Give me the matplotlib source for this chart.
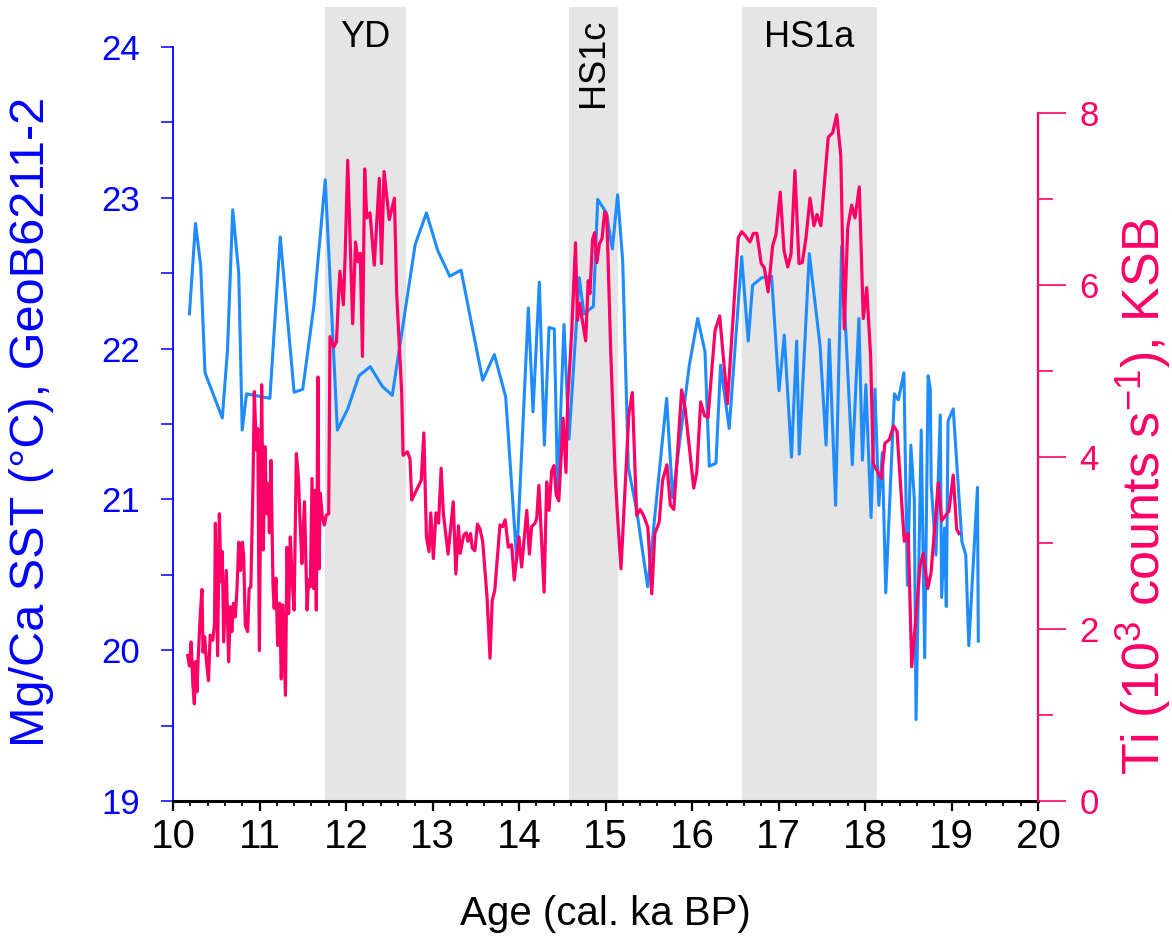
import matplotlib
matplotlib.use("Agg")
import matplotlib.pyplot as plt
from matplotlib.ticker import MultipleLocator, FixedLocator

plt.rcParams['font.family'] = ['Liberation Sans', 'DejaVu Sans']
plt.rcParams['mathtext.fontset'] = 'custom'
plt.rcParams['mathtext.rm'] = 'Liberation Sans'
plt.rcParams['mathtext.it'] = 'Liberation Sans'

# Mg/Ca SST, GeoB6211-2
sst_age = [10.19, 10.26, 10.32, 10.37, 10.57, 10.63, 10.69, 10.76, 10.80, 10.85,
           11.12, 11.24, 11.40, 11.50, 11.63, 11.76, 11.90, 12.02, 12.15, 12.28,
           12.42, 12.535, 12.80, 12.93, 13.06, 13.20, 13.33, 13.58, 13.715, 13.846,
           13.973, 14.108, 14.162, 14.235, 14.293, 14.347, 14.408, 14.447, 14.52, 14.578,
           14.697, 14.75, 14.86, 14.91, 15.01, 15.079, 15.14, 15.199, 15.264, 15.36,
           15.488, 15.707, 15.776, 15.969, 16.066, 16.15, 16.20, 16.277, 16.33, 16.43,
           16.574, 16.65, 16.70, 16.806, 16.92, 17.006, 17.067, 17.15, 17.21, 17.24,
           17.356, 17.48, 17.55, 17.587, 17.66, 17.73, 17.853, 17.93, 17.97, 18.01,
           18.07, 18.115, 18.16, 18.20, 18.24, 18.34, 18.385, 18.45, 18.49, 18.53,
           18.57, 18.59, 18.65, 18.69, 18.73, 18.755, 18.765, 18.82, 18.87, 18.886,
           18.92, 18.94, 18.96, 19.02, 19.12, 19.165, 19.20, 19.30, 19.31]
sst_val = [22.23, 22.83, 22.55, 21.84, 21.54, 21.99, 22.92, 22.50, 21.46, 21.70,
           21.67, 22.74, 21.71, 21.73, 22.29, 23.12, 21.46, 21.60, 21.82, 21.88,
           21.75, 21.69, 22.69, 22.90, 22.65, 22.48, 22.52, 21.79, 21.96, 21.68,
           20.60, 22.27, 21.58, 22.44, 21.36, 22.14, 22.13, 21.04, 22.16, 21.40,
           22.47, 22.23, 22.28, 22.99, 22.90, 22.66, 23.02, 22.58, 21.21, 20.93,
           20.42, 21.67, 21.01, 21.89, 22.20, 21.98, 21.22, 21.24, 21.89, 21.47,
           22.61, 22.05, 22.42, 22.47, 22.48, 21.72, 22.09, 21.28, 22.05, 21.30,
           22.63, 22.02, 21.36, 22.06, 20.96, 22.68, 21.23, 22.20, 21.26, 21.76,
           20.88, 21.73, 20.96, 21.31, 20.38, 21.70, 21.66, 21.84, 20.43, 21.36,
           21.00, 19.54, 21.46, 19.95, 21.82, 21.73, 21.10, 20.63, 21.56, 20.35,
           20.81, 20.29, 21.52, 21.60, 20.72, 20.63, 20.03, 21.08, 20.06]

# Ti counts, KSB (10^3 counts/s)
ti_age = [10.17, 10.19, 10.21, 10.23, 10.247, 10.258, 10.277, 10.289, 10.316, 10.335,
          10.347, 10.366, 10.385, 10.41, 10.43, 10.46, 10.48, 10.49, 10.516, 10.536,
          10.555, 10.57, 10.586, 10.617, 10.643, 10.663, 10.68, 10.70, 10.72, 10.74,
          10.76, 10.78, 10.80, 10.817, 10.836, 10.863, 10.88, 10.90, 10.925, 10.94,
          10.963, 10.98, 10.998, 11.025, 11.044, 11.063, 11.083, 11.10, 11.114, 11.133,
          11.156, 11.17, 11.19, 11.21, 11.233, 11.252, 11.27, 11.30, 11.318, 11.337,
          11.356, 11.38, 11.40, 11.426, 11.449, 11.472, 11.49, 11.52, 11.55, 11.568,
          11.588, 11.607, 11.626, 11.638, 11.657, 11.676, 11.688, 11.703, 11.726, 11.75,
          11.77, 11.80, 11.815, 11.86, 11.89, 11.915, 11.93, 11.97, 11.99, 12.02,
          12.077, 12.11, 12.14, 12.165, 12.19, 12.216, 12.24, 12.277, 12.327, 12.385,
          12.41, 12.44, 12.50, 12.56, 12.586, 12.644, 12.66, 12.71, 12.74, 12.76,
          12.87, 12.90, 12.93, 12.96, 12.98, 13.01, 13.04, 13.07, 13.10, 13.125,
          13.18, 13.24, 13.27, 13.30, 13.32, 13.36, 13.39, 13.41, 13.44, 13.46,
          13.49, 13.52, 13.55, 13.58, 13.63, 13.665, 13.69, 13.72, 13.78, 13.81,
          13.84, 13.877, 13.915, 13.945, 14.00, 14.03, 14.09, 14.12, 14.146, 14.185,
          14.205, 14.23, 14.29, 14.32, 14.347, 14.378, 14.405, 14.43, 14.46, 14.51,
          14.543, 14.563, 14.609, 14.653, 14.676, 14.70, 14.771, 14.80, 14.82, 14.85,
          14.876, 14.90, 14.93, 14.96, 14.99, 15.015, 15.06, 15.11, 15.135, 15.179,
          15.245, 15.27, 15.31, 15.36, 15.40, 15.44, 15.49, 15.535, 15.57, 15.62,
          15.66, 15.71, 15.75, 15.79, 15.88, 15.92, 16.02, 16.055, 16.10, 16.145,
          16.185, 16.266, 16.32, 16.41, 16.535, 16.575, 16.62, 16.67, 16.71, 16.75,
          16.80, 16.836, 16.88, 16.933, 16.97, 17.02, 17.064, 17.107, 17.145, 17.19,
          17.237, 17.275, 17.318, 17.364, 17.41, 17.445, 17.49, 17.575, 17.626, 17.673,
          17.72, 17.76, 17.80, 17.846, 17.884, 17.934, 17.98, 18.02, 18.065, 18.095,
          18.19, 18.23, 18.28, 18.33, 18.37, 18.454, 18.50, 18.54, 18.59, 18.636,
          18.674, 18.725, 18.763, 18.847, 18.887, 18.97, 19.02, 19.06, 19.087]
ti_val = [1.69, 1.57, 1.85, 1.35, 1.13, 1.62, 1.27, 1.61, 2.18, 2.46,
          1.73, 1.91, 1.64, 1.40, 1.93, 1.87, 2.06, 3.23, 1.69, 3.34,
          2.55, 2.90, 1.85, 2.68, 1.62, 2.26, 1.97, 2.30, 2.14, 2.47,
          3.01, 2.68, 3.01, 2.86, 2.04, 1.97, 2.47, 2.49, 3.69, 4.76,
          4.08, 4.33, 1.75, 4.84, 2.92, 4.12, 3.34, 3.69, 3.12, 3.96,
          2.51, 2.24, 2.59, 1.81, 2.30, 1.42, 2.28, 1.23, 2.95, 2.18,
          3.07, 2.53, 2.22, 4.04, 3.77, 3.17, 2.76, 3.48, 2.22, 2.57,
          2.49, 3.75, 2.47, 3.61, 2.22, 4.93, 2.70, 3.58, 3.30, 3.21,
          3.32, 3.34, 5.40, 5.28, 5.34, 5.90, 6.16, 5.77, 6.33, 7.45,
          5.55, 6.50, 6.27, 6.37, 5.17, 7.35, 6.78, 6.84, 6.23, 7.24,
          6.25, 7.32, 6.76, 7.01, 5.90, 4.74, 4.02, 4.06, 3.98, 3.50,
          3.73, 4.28, 3.07, 2.90, 3.35, 2.82, 3.35, 3.23, 3.87, 3.35,
          2.87, 3.48, 2.64, 3.20, 2.88, 3.09, 3.12, 3.02, 3.11, 2.94,
          2.91, 3.22, 3.16, 3.02, 2.38, 1.66, 2.33, 2.45, 3.21, 3.19,
          3.27, 2.95, 2.98, 2.57, 3.07, 2.72, 3.38, 2.87, 3.19, 3.23,
          3.29, 3.67, 2.43, 3.71, 3.38, 3.84, 3.90, 3.56, 3.49, 4.45,
          3.82, 4.66, 5.44, 6.49, 5.59, 5.79, 5.35, 6.05, 5.90, 6.53,
          6.61, 6.26, 6.48, 6.54, 6.85, 6.81, 5.24, 3.84, 3.38, 2.70,
          4.00, 4.50, 4.75, 3.32, 3.39, 3.32, 3.18, 2.41, 3.11, 3.24,
          3.73, 3.91, 3.44, 3.39, 4.78, 4.57, 3.64, 3.82, 4.64, 4.48,
          4.46, 5.47, 5.64, 4.62, 6.55, 6.62, 6.57, 6.50, 6.60, 6.60,
          6.25, 6.20, 5.92, 6.46, 6.58, 7.08, 6.40, 6.21, 6.36, 7.33,
          6.25, 6.26, 6.55, 7.01, 6.69, 6.82, 6.69, 7.72, 7.77, 7.98,
          7.51, 5.49, 6.67, 6.93, 6.78, 7.14, 5.61, 5.97, 5.17, 3.92,
          3.75, 4.16, 4.20, 4.36, 4.30, 3.02, 3.11, 1.56, 2.15, 2.73,
          2.88, 2.47, 2.65, 3.70, 3.26, 3.37, 3.79, 3.16, 3.11]

# stadial intervals
events = ["YD", "HS1c", "HS1a"]
event_start = [11.76, 14.58, 16.58]
event_end = [12.69, 15.15, 18.14]

sst_color = "#1E8CFF"
ti_color = "#FF0066"
axis_blue = "#0000FF"

fig = plt.figure(figsize=(11.72, 9.41), dpi=100)
ax = fig.add_axes([173 / 1172, 140 / 941, 865 / 1172, 794 / 941])
ax2 = ax.twinx()

for name, x0, x1 in zip(events, event_start, event_end):
    ax.axvspan(x0, x1, color="#E5E5E5", lw=0, zorder=0)
    xm = (x0 + x1) / 2
    if name == "HS1c":
        ax.text(xm, 24.19, name, rotation=90, ha="center", va="top", fontsize=26)
    else:
        ax.text(xm, 24.06, name, ha="center", va="center", fontsize=26)

ax.plot(sst_age, sst_val, color=sst_color, lw=2.2, zorder=3)
ax2.plot(ti_age, ti_val, color=ti_color, lw=2.3, zorder=2)

ax.set_xlim(10, 20)
ax.set_ylim(19, 24.265)
ax2.set_ylim(0, 9.233)

ax.spines["top"].set_visible(False)
ax.spines["right"].set_visible(False)
ax.spines["left"].set_bounds(19, 24)
ax.spines["left"].set_color(axis_blue)
ax.spines["left"].set_linewidth(1.3)
ax.spines["bottom"].set_linewidth(2.2)
for s in ["top", "left", "bottom"]:
    ax2.spines[s].set_visible(False)
ax2.spines["right"].set_bounds(0, 8)
ax2.spines["right"].set_color(ti_color)
ax2.spines["right"].set_linewidth(1.6)

ax.set_yticks([19, 20, 21, 22, 23, 24])
ax.yaxis.set_minor_locator(MultipleLocator(0.5))
ax.tick_params(axis="y", which="both", length=8.6, width=1.1, color=axis_blue,
               labelcolor=axis_blue, labelsize=25, pad=15)

ax.set_xticks(range(10, 21))
ax.xaxis.set_minor_locator(MultipleLocator(0.2))
ax.tick_params(axis="x", which="major", direction="out", length=7, width=1.6,
               labelsize=29, pad=5)
ax.tick_params(axis="x", which="minor", direction="out", length=3.8, width=1.3)

ax2.set_yticks([0, 2, 4, 6, 8])
ax2.yaxis.set_minor_locator(FixedLocator([1, 3, 5, 7]))
ax2.tick_params(axis="y", which="major", length=20, width=1.2, color=ti_color,
                labelcolor=ti_color, labelsize=25, pad=10)
ax2.tick_params(axis="y", which="minor", length=11, width=1.2, color=ti_color)

ax.set_xlabel("Age (cal. ka BP)", fontsize=29, labelpad=28)
ax.set_ylabel("Mg/Ca SST (°C), GeoB6211-2", fontsize=35, color=axis_blue)
ax2.set_ylabel(r"Ti (10$^{3}$ counts s$^{-1}$), KSB", fontsize=37.5, color=ti_color)
ax.yaxis.set_label_coords(-0.137, 0.477)
ax2.yaxis.set_label_coords(1.087, 0.384)

fig.savefig("out.png", dpi=100)
